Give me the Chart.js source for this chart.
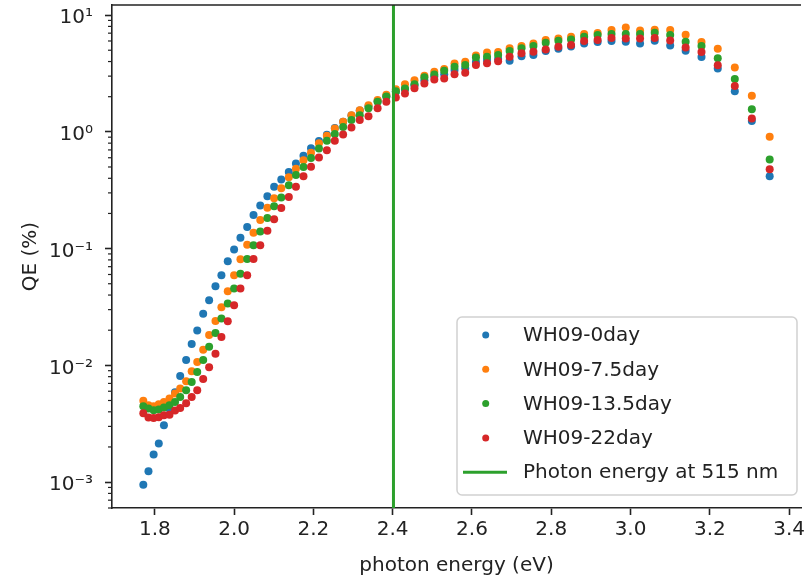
<!DOCTYPE html>
<html>
<head>
<meta charset="utf-8">
<script src="https://cdn.jsdelivr.net/npm/chart.js@4.4.1/dist/chart.umd.min.js"></script>
<style>
  html, body { margin: 0; padding: 0; background: #fff; overflow: hidden; }
  canvas { display: block; }
</style>
</head>
<body>
<canvas id="graficoQE" width="805" height="580"></canvas>
<script>
// Energia do fóton (eV) de cada ponto medido
const photonEnergy = [1.771, 1.784, 1.797, 1.810, 1.823, 1.837, 1.851, 1.864, 1.879, 1.893,
  1.907, 1.922, 1.937, 1.953, 1.968, 1.984, 2.000, 2.016, 2.033, 2.049,
  2.066, 2.084, 2.101, 2.119, 2.138, 2.156, 2.175, 2.194, 2.214, 2.234,
  2.254, 2.275, 2.296, 2.317, 2.339, 2.362, 2.384, 2.408, 2.431, 2.455,
  2.480, 2.505, 2.530, 2.556, 2.583, 2.610, 2.638, 2.666, 2.695, 2.725,
  2.755, 2.786, 2.818, 2.850, 2.883, 2.917, 2.952, 2.988, 3.024, 3.061,
  3.100, 3.139, 3.179, 3.220, 3.263, 3.306, 3.351];

// QE (%) de cada amostra
const qe0day = [0.00095, 0.00124, 0.00172, 0.00214, 0.00307, 0.00425, 0.00588, 0.00811, 0.0111, 0.0152,
  0.0199, 0.0277, 0.0361, 0.0476, 0.0592, 0.0780, 0.0984, 0.124, 0.153, 0.194,
  0.234, 0.281, 0.339, 0.390, 0.452, 0.536, 0.625, 0.725, 0.833, 0.946,
  1.08, 1.22, 1.38, 1.52, 1.66, 1.83, 2.02, 2.21, 2.32, 2.51,
  2.77, 3.00, 3.12, 3.38, 3.51, 3.96, 4.12, 4.20, 4.06, 4.45,
  4.54, 4.92, 5.16, 5.37, 5.72, 5.87, 5.99, 5.91, 5.72, 6.02,
  5.48, 4.94, 4.37, 3.49, 2.23, 1.24, 0.417];

const qe7_5day = [0.00497, 0.00455, 0.00446, 0.00464, 0.00486, 0.00519, 0.00573, 0.00633, 0.00731, 0.00890,
  0.0107, 0.0136, 0.0182, 0.0240, 0.0315, 0.0432, 0.0592, 0.0811, 0.108, 0.137,
  0.176, 0.224, 0.270, 0.329, 0.409, 0.482, 0.572, 0.663, 0.800, 0.928,
  1.07, 1.22, 1.39, 1.53, 1.69, 1.87, 2.08, 2.32, 2.56, 2.77,
  3.03, 3.27, 3.45, 3.84, 3.98, 4.50, 4.79, 4.82, 5.19, 5.43,
  5.72, 6.11, 6.31, 6.52, 6.87, 7.01, 7.44, 7.81, 7.39, 7.48,
  7.44, 6.78, 5.87, 5.14, 3.55, 2.04, 0.906];

const qe13_5day = [0.00446, 0.00426, 0.00412, 0.00418, 0.00435, 0.00455, 0.00486, 0.00536, 0.00612, 0.00721,
  0.00878, 0.0111, 0.0144, 0.0189, 0.0252, 0.0339, 0.0455, 0.0609, 0.0814, 0.107,
  0.140, 0.183, 0.231, 0.274, 0.349, 0.426, 0.501, 0.598, 0.721, 0.837,
  0.956, 1.10, 1.26, 1.39, 1.59, 1.81, 2.01, 2.23, 2.35, 2.56,
  2.94, 3.10, 3.33, 3.61, 3.73, 4.34, 4.39, 4.54, 4.92, 5.19,
  5.43, 5.79, 6.02, 6.19, 6.52, 6.74, 6.87, 6.87, 6.87, 7.05,
  6.74, 5.91, 5.43, 4.26, 2.83, 1.56, 0.580];

const qe22day = [0.00389, 0.00357, 0.00354, 0.00359, 0.00374, 0.00377, 0.00410, 0.00431, 0.00473, 0.00536,
  0.00612, 0.00765, 0.00963, 0.0126, 0.0175, 0.0239, 0.0327, 0.0455, 0.0592, 0.0816,
  0.107, 0.142, 0.178, 0.223, 0.277, 0.338, 0.417, 0.503, 0.604, 0.697,
  0.837, 0.950, 1.09, 1.26, 1.36, 1.59, 1.81, 1.97, 2.13, 2.36,
  2.60, 2.81, 2.87, 3.12, 3.20, 3.73, 3.86, 4.03, 4.39, 4.70,
  4.85, 5.08, 5.35, 5.53, 5.99, 6.11, 6.35, 6.31, 6.29, 6.35,
  6.05, 5.27, 4.82, 3.71, 2.47, 1.30, 0.477];

const seriesLabels = ["WH09-0day", "WH09-7.5day", "WH09-13.5day", "WH09-22day"];
const lineLabel = "Photon energy at 515 nm";
const energia515 = 2.402;

// Eixos
const xTicks = [1.8, 2.0, 2.2, 2.4, 2.6, 2.8, 3.0, 3.2, 3.4];
const yTicks = [1e-3, 1e-2, 1e-1, 1, 10];
const yTickLabels = ["10\u207B\u00B3", "10\u207B\u00B2", "10\u207B\u00B9", "10\u2070", "10\u00B9"];
const yDecades = [1e-4, 1e-3, 1e-2, 1e-1, 1, 10];
const yMinorFactors = [2, 3, 4, 5, 6, 7, 8, 9];
const xMin = 1.692, xMax = 3.430;
const yMin = 6.0e-4, yMax = 12.2;

const cores = ["#1f77b4", "#ff7f0e", "#2ca02c", "#d62728"];
const corTexto = "#222";
const corEixo = "#222";

Chart.defaults.font.family = "'DejaVu Sans', sans-serif";
Chart.defaults.font.size = 20;
Chart.defaults.color = corTexto;

// Monta os pontos {x, y} de cada série
function pontos(valores) {
  return photonEnergy.map((x, i) => ({ x: x, y: valores[i] }));
}

const series = [qe0day, qe7_5day, qe13_5day, qe22day];
const datasets = series.map((valores, i) => ({
  label: seriesLabels[i],
  data: pontos(valores),
  backgroundColor: cores[i],
  borderColor: cores[i],
  borderWidth: 0,
  pointRadius: 4,
  pointHoverRadius: 4,
  order: 4 - i
}));

// Linha vertical em 515 nm
datasets.push({
  type: "line",
  label: lineLabel,
  data: [{ x: energia515, y: yMin }, { x: energia515, y: yMax }],
  borderColor: cores[2],
  borderWidth: 3,
  pointRadius: 0,
  showLine: true,
  fill: false,
  order: 0
});

// Ticks menores do eixo log e moldura superior
const ticksMenores = {
  id: "ticksMenores",
  afterDraw(chart) {
    const { ctx, chartArea } = chart;
    const y = chart.scales.y;
    ctx.save();
    ctx.strokeStyle = corEixo;
    ctx.lineWidth = 1.2;
    yDecades.forEach((d) => {
      yMinorFactors.forEach((f) => {
        const v = d * f;
        if (v < yMin || v > yMax) return;
        const py = y.getPixelForValue(v);
        ctx.beginPath();
        ctx.moveTo(chartArea.left - 4, py);
        ctx.lineTo(chartArea.left, py);
        ctx.stroke();
      });
    });
    ctx.lineWidth = 1.6;
    ctx.beginPath();
    ctx.moveTo(chartArea.left - 0.8, chartArea.top);
    ctx.lineTo(chartArea.right, chartArea.top);
    ctx.stroke();
    ctx.restore();
  }
};

// Legenda dentro da área do gráfico (canto inferior direito)
const legendaInterna = {
  id: "legendaInterna",
  afterDraw(chart) {
    const ctx = chart.ctx;
    const caixa = { left: 457, top: 317, width: 340, height: 178 };
    ctx.save();
    ctx.fillStyle = "rgba(255,255,255,0.8)";
    ctx.strokeStyle = "rgba(204,204,204,0.9)";
    ctx.lineWidth = 1.5;
    ctx.beginPath();
    if (ctx.roundRect) {
      ctx.roundRect(caixa.left, caixa.top, caixa.width, caixa.height, 5);
    } else {
      ctx.rect(caixa.left, caixa.top, caixa.width, caixa.height);
    }
    ctx.fill();
    ctx.stroke();

    ctx.font = "20px 'DejaVu Sans', sans-serif";
    ctx.textBaseline = "middle";
    ctx.textAlign = "left";
    chart.data.datasets.forEach((ds, i) => {
      const yLinha = 335 + i * 34.3;
      if (ds.type === "line") {
        ctx.strokeStyle = ds.borderColor;
        ctx.lineWidth = 3;
        ctx.beginPath();
        ctx.moveTo(463, yLinha);
        ctx.lineTo(507, yLinha);
        ctx.stroke();
      } else {
        ctx.fillStyle = ds.backgroundColor;
        ctx.beginPath();
        ctx.arc(485.7, yLinha, 3.5, 0, Math.PI * 2);
        ctx.fill();
      }
      ctx.fillStyle = corTexto;
      ctx.fillText(ds.label, 523, yLinha + 1);
    });
    ctx.restore();
  }
};

const ctx = document.getElementById("graficoQE").getContext("2d");

const chart = new Chart(ctx, {
  type: "scatter",
  data: { datasets: datasets },
  options: {
    responsive: false,
    animation: false,
    devicePixelRatio: 1,
    layout: { padding: { top: 5, left: 0, right: 0, bottom: 0 } },
    scales: {
      x: {
        type: "linear",
        min: xMin,
        max: xMax,
        afterBuildTicks: (scale) => {
          scale.ticks = xTicks.map((v) => ({ value: v }));
        },
        afterFit: (scale) => {
          scale.height = 72;
          scale.paddingLeft = 0;
          scale.paddingRight = 0;
        },
        ticks: {
          autoSkip: false,
          maxRotation: 0,
          padding: 3,
          color: corTexto,
          callback: (value) => Number(value).toFixed(1)
        },
        grid: { drawOnChartArea: false, drawTicks: true, tickLength: 7, tickWidth: 1.6, tickColor: corEixo },
        border: { display: true, color: corEixo, width: 1.6 },
        title: { display: true, text: "photon energy (eV)", color: corTexto, padding: { top: 0, bottom: 2 } }
      },
      y: {
        type: "logarithmic",
        min: yMin,
        max: yMax,
        afterBuildTicks: (scale) => {
          scale.ticks = yTicks.map((v) => ({ value: v, major: true }));
        },
        afterFit: (scale) => {
          scale.width = 112;
          scale.paddingTop = 0;
          scale.paddingBottom = 0;
        },
        ticks: {
          autoSkip: false,
          padding: 12,
          labelOffset: 3,
          color: corTexto,
          callback: (value, index) => yTickLabels[index]
        },
        grid: { drawOnChartArea: false, drawTicks: true, tickLength: 7, tickWidth: 1.6, tickColor: corEixo },
        border: { display: true, color: corEixo, width: 1.6 },
        title: { display: true, text: "QE (%)", color: corTexto, padding: { top: 19, bottom: 0 } }
      }
    },
    plugins: {
      legend: { display: false },
      tooltip: { enabled: false }
    }
  },
  plugins: [ticksMenores, legendaInterna]
});
</script>
</body>
</html>
